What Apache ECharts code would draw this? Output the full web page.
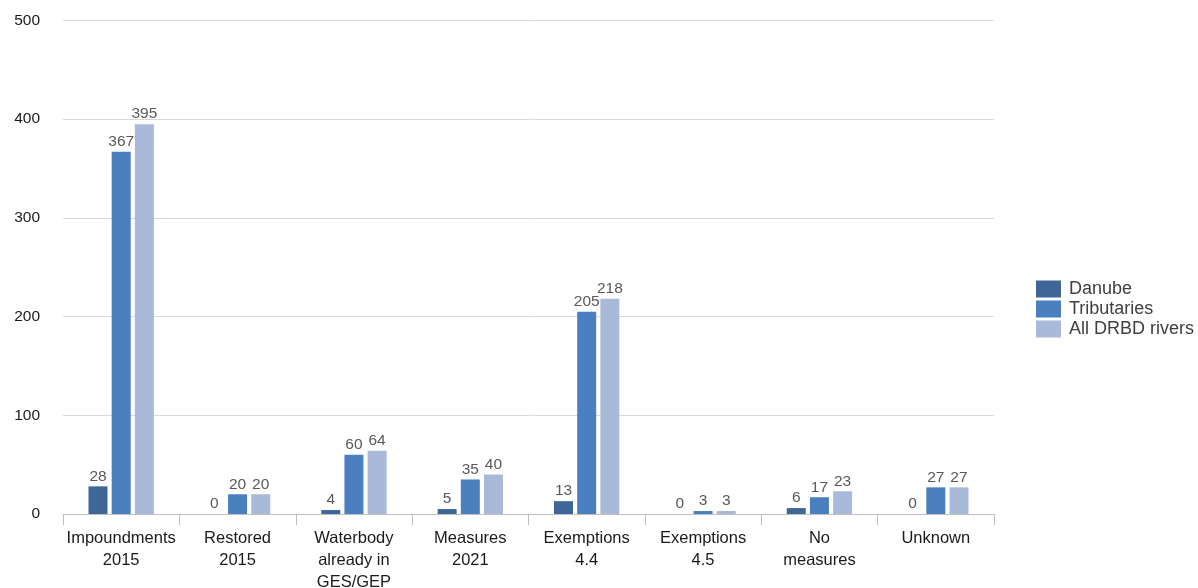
<!DOCTYPE html>
<html><head><meta charset="utf-8">
<script src="https://cdn.jsdelivr.net/npm/echarts@6/dist/echarts.min.js"></script>
<style>html,body{margin:0;padding:0;background:#fff}#c{width:1198px;height:588px}</style>
</head><body><div id="c"></div>
<script>
const categories = ["Impoundments\n2015","Restored\n2015","Waterbody\nalready in\nGES/GEP","Measures\n2021","Exemptions\n4.4","Exemptions\n4.5","No\nmeasures","Unknown"];
const danube = [28,0,4,5,13,0,6,0];
const tributaries = [367,20,60,35,205,3,17,27];
const allRivers = [395,20,64,40,218,3,23,27];
const seriesNames = ["Danube","Tributaries","All DRBD rivers"];
const colors = ["#3e6696","#4a7fc0","#a8b9d9"];
const font = "'Liberation Sans', Arial, sans-serif";
const chart = echarts.init(document.getElementById('c'));
const lbl = {show:true, position:'top', distance:2, color:'#595959', fontSize:15.5, fontFamily:font};
chart.setOption({
  animation:false,
  textStyle:{fontFamily:font},
  grid:{left:63, right:204, top:20.5, bottom:74, outerBoundsMode:'none', containLabel:false},
  legend:{orient:'vertical', left:1031, top:275, itemWidth:25, itemHeight:17, itemGap:2,
    icon:'rect', textStyle:{fontSize:18, color:'#404040', fontFamily:font, padding:[0,0,0,3]},
    data:seriesNames},
  xAxis:{type:'category', data:categories,
    axisLine:{lineStyle:{color:'#bfbfbf'}},
    axisTick:{show:true, length:11, lineStyle:{color:'#bfbfbf'}},
    axisLabel:{color:'#1a1a1a', fontSize:16.5, lineHeight:22, margin:13, fontFamily:font, interval:0}},
  yAxis:{type:'value', min:0, max:500, interval:100,
    axisLine:{show:false}, axisTick:{show:false},
    splitLine:{lineStyle:{color:'#d9d9d9'}},
    axisLabel:{color:'#1a1a1a', fontSize:15.5, margin:23, fontFamily:font}},
  series:[
    {name:seriesNames[0], type:'bar', data:danube, itemStyle:{color:colors[0]}, barWidth:19, barGap:'22%', barCategoryGap:'43%', label:lbl},
    {name:seriesNames[1], type:'bar', data:tributaries, itemStyle:{color:colors[1]}, barWidth:19, barGap:'22%', label:lbl},
    {name:seriesNames[2], type:'bar', data:allRivers, itemStyle:{color:colors[2]}, barWidth:19, barGap:'22%', label:lbl}
  ]
});
</script></body></html>
